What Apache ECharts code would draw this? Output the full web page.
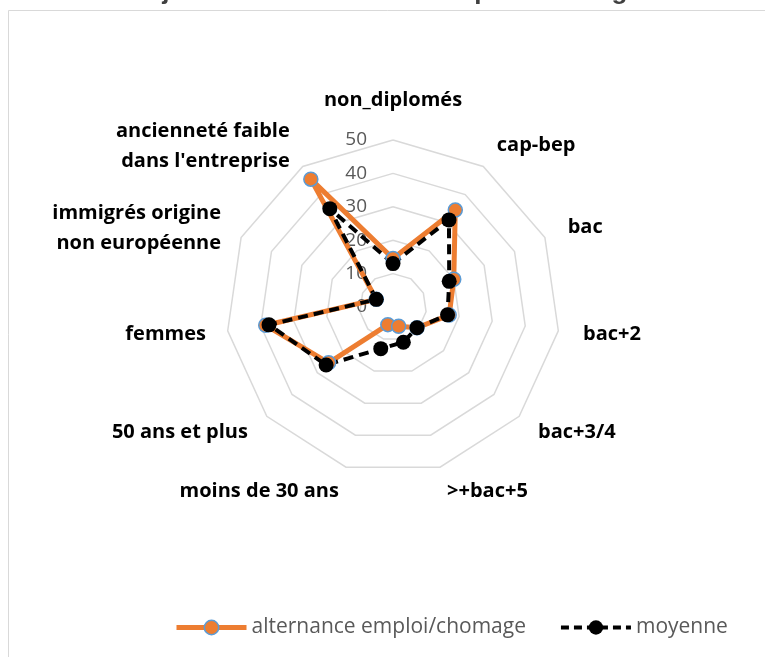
<!DOCTYPE html>
<html>
<head>
<meta charset="utf-8">
<script src="https://cdn.jsdelivr.net/npm/echarts@6/dist/echarts.min.js"></script>
<style>
  html, body { margin: 0; padding: 0; background: #ffffff; }
  #chart { width: 765px; height: 657px; }
</style>
</head>
<body>
<div id="chart"></div>
<script>
// Profile categories, listed clockwise from the top of the radar
const categories = [
  'non_diplomés',
  'cap-bep',
  'bac',
  'bac+2',
  'bac+3/4',
  '>+bac+5',
  'moins de 30 ans',
  '50 ans et plus',
  'femmes',
  'immigrés origine\nnon européenne',
  "ancienneté faible\ndans l'entreprise"
];

// Share (%) of each profile
const alternance = [14.5, 34.5, 20, 17, 9.5, 6, 5.5, 25.5, 38.5, 5.5, 45.5];
const moyenne    = [13, 31, 18.5, 16.5, 9.5, 11, 13, 26.5, 37.5, 5.5, 35];

const seriesNames = ['alternance emploi/chomage', 'moyenne'];
const chartTitle = 'Trajectoire 4 : alternance emploi/chomage';

// Radial scale: 0 at the centre, rings every 10 up to 50
const axisMin = 0;
const axisMax = 50;
const axisSplits = 5;

// Distance between the outer ring and each category name
const nameGaps = [25, 25, 25, 25, 25, 25, 25, 25, 22, 22, 24];

const ORANGE = '#ED7D31';
const BLUE = '#5B9BD5';
const GREY_TEXT = '#595959';
const FONT = '"Open Sans", "Liberation Sans", sans-serif';

// ECharts lays indicators out counter-clockwise; keep the first one on top
// and walk the rest backwards so the categories run clockwise.
const order = [0];
for (let i = categories.length - 1; i >= 1; i--) order.push(i);
const reorder = arr => order.map(i => arr[i]);

const indicators = order.map((i, k) => {
  const ind = { name: categories[i], min: axisMin, max: axisMax, nameGap: nameGaps[i] };
  if (k !== 0) ind.axisLabel = { show: false };
  return ind;
});

const chart = echarts.init(document.getElementById('chart'), null, { renderer: 'canvas' });

chart.setOption({
  animation: false,
  backgroundColor: '#ffffff',
  title: {
    text: chartTitle,
    left: 'center',
    top: -21,
    padding: 0,
    textStyle: {
      fontFamily: '"Liberation Sans", Arial, sans-serif',
      fontWeight: 'bold',
      fontSize: 26,
      color: '#404040'
    }
  },
  graphic: [{
    type: 'rect',
    silent: true,
    z: -10,
    shape: { x: 8.5, y: 10.5, width: 800, height: 700 },
    style: { fill: 'none', stroke: '#D9D9D9', lineWidth: 1 }
  }],
  legend: {
    left: 174,
    top: 617,
    padding: 0,
    itemWidth: 70,
    itemHeight: 18,
    itemGap: 33,
    textStyle: { color: GREY_TEXT, fontSize: 21, fontFamily: FONT },
    data: [
      {
        name: seriesNames[0],
        lineStyle: { color: ORANGE, width: 5, type: 'solid' },
        itemStyle: { color: ORANGE, borderColor: BLUE, borderWidth: 1.5 }
      },
      {
        name: seriesNames[1],
        lineStyle: { color: '#000000', width: 4, type: [8, 5] },
        itemStyle: { color: '#000000', borderWidth: 0 }
      }
    ]
  },
  // Hidden cartesian frame: only hosts line series whose legend icons show line + marker
  grid: { show: false, left: 0, top: 0, width: 1, height: 1 },
  xAxis: { type: 'category', show: false, data: [] },
  yAxis: { type: 'value', show: false },
  radar: {
    center: [393, 307],
    radius: 167,
    startAngle: 90,
    splitNumber: axisSplits,
    shape: 'polygon',
    nameGap: 25,
    axisName: {
      color: '#000000',
      fontFamily: FONT,
      fontWeight: 'bold',
      fontSize: 20,
      lineHeight: 30
    },
    axisLine: { show: false },
    axisTick: { show: false },
    axisLabel: {
      show: true,
      color: GREY_TEXT,
      fontFamily: FONT,
      fontSize: 19,
      margin: 26
    },
    splitLine: { lineStyle: { color: '#D9D9D9', width: 1.5 } },
    splitArea: { show: false },
    indicator: indicators
  },
  series: [
    {
      type: 'line',
      name: seriesNames[0],
      data: [],
      symbol: 'circle',
      symbolSize: 14,
      lineStyle: { color: ORANGE, width: 5 },
      itemStyle: { color: ORANGE, borderColor: BLUE, borderWidth: 1.5 }
    },
    {
      type: 'line',
      name: seriesNames[1],
      data: [],
      symbol: 'circle',
      symbolSize: 15,
      lineStyle: { color: '#000000', width: 4, type: [8, 5] },
      itemStyle: { color: '#000000' }
    },
    {
      type: 'radar',
      z: 3,
      data: [
        {
          name: seriesNames[0],
          value: reorder(alternance),
          symbol: 'circle',
          symbolSize: 14,
          lineStyle: { color: ORANGE, width: 5 },
          itemStyle: { color: ORANGE, borderColor: BLUE, borderWidth: 1.5 }
        },
        {
          name: seriesNames[1],
          value: reorder(moyenne),
          symbol: 'circle',
          symbolSize: 15,
          lineStyle: { color: '#000000', width: 4, type: [10, 6] },
          itemStyle: { color: '#000000' }
        }
      ]
    }
  ]
});
</script>
</body>
</html>
